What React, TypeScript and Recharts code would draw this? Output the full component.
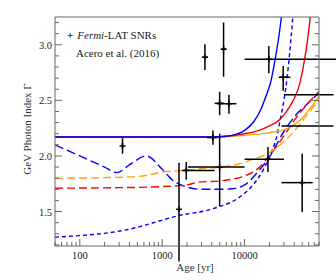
import { ComposedChart, ErrorBar, Line, Scatter, XAxis, YAxis } from 'recharts'

// ── Tick values ──

const AGE_TICKS = [
  50, 60, 70, 80, 90, 100, 200, 300, 400, 500, 600, 700, 800, 900, 1000, 2000, 3000, 4000, 5000,
  6000, 7000, 8000, 9000, 10000, 20000, 30000, 40000, 50000, 60000, 70000, 80000,
]
const AGE_MAJOR = [100, 1000, 10000]
const INDEX_TICKS = [
  1.2, 1.3, 1.4, 1.5, 1.6, 1.7, 1.8, 1.9, 2.0, 2.1, 2.2, 2.3, 2.4, 2.5, 2.6, 2.7, 2.8, 2.9, 3.0, 3.1,
  3.2,
]
const INDEX_MAJOR = [1.5, 2.0, 2.5, 3.0]

// ── Fermi-LAT SNRs (Acero et al. 2016) ──

const SNR_AGE = [330, 1600, 1960, 4980, 4130, 4980, 6460, 3300, 5560, 19700, 29400, 100000, 100000, 19200, 50000]
const SNR_AGE_LO = [330, 1600, 1740, 2050, 3500, 4330, 4700, 3070, 5200, 10000, 26000, 30000, 28000, 10000, 28000]
const SNR_AGE_HI = [330, 1600, 4330, 10000, 4700, 5630, 7950, 3600, 6000, 150000, 36000, 120000, 120000, 30000, 67000]
const SNR_IDX = [2.09, 1.52, 1.87, 1.9, 2.166, 2.473, 2.47, 2.888, 2.96, 2.87, 2.708, 2.55, 2.27, 1.97, 1.76]
const SNR_IDX_LO = [2.02, 1.05, 1.787, 1.55, 2.1, 2.367, 2.38, 2.773, 2.713, 2.744, 2.587, 2.55, 2.27, 1.855, 1.495]
const SNR_IDX_HI = [2.16, 1.94, 1.946, 2.2, 2.23, 2.578, 2.55, 3.005, 3.2, 2.99, 2.81, 2.55, 2.27, 2.08, 2.02]

// ── Model curves ──

const BLUE_SOLID_AGE = [50, 500, 3000, 5000, 7000, 10000, 13000, 16000, 18000, 21000, 23500, 26000, 28000, 30000]
const BLUE_SOLID_IDX = [2.17, 2.17, 2.17, 2.173, 2.185, 2.23, 2.31, 2.43, 2.53, 2.68, 2.87, 3.07, 3.25, 3.45]

const RED_SOLID_AGE = [50, 500, 3000, 5000, 10000, 15000, 20000, 26000, 30000, 35000, 42000, 47000, 52000, 57000, 62000, 66000]
const RED_SOLID_IDX = [2.17, 2.17, 2.17, 2.173, 2.2, 2.23, 2.27, 2.32, 2.37, 2.44, 2.55, 2.66, 2.82, 3.0, 3.22, 3.45]

const ORANGE_SOLID_AGE = [50, 500, 3000, 5000, 10000, 20000, 30000, 40000, 50000, 60000, 80000]
const ORANGE_SOLID_IDX = [2.17, 2.17, 2.17, 2.173, 2.185, 2.21, 2.235, 2.28, 2.34, 2.41, 2.54]

const BLUE_LONG_AGE = [50, 100, 200, 280, 400, 640, 1000, 1350, 2000, 3000, 5000, 7000, 10000, 15000, 20000, 30000, 40000, 60000, 80000]
const BLUE_LONG_IDX = [2.1, 2.0, 1.9, 1.85, 1.92, 2.0, 1.88, 1.78, 1.72, 1.7, 1.7, 1.705, 1.74, 1.87, 1.99, 2.22, 2.35, 2.48, 2.57]

const ORANGE_LONG_AGE = [50, 200, 500, 700, 1000, 1800, 3000, 5000, 8700, 15000, 18000, 25000, 30000, 44000, 60000, 80000]
const ORANGE_LONG_IDX = [1.8, 1.805, 1.815, 1.83, 1.855, 1.87, 1.885, 1.9, 1.93, 1.99, 2.01, 2.08, 2.13, 2.26, 2.39, 2.5]

const RED_LONG_AGE = [50, 300, 700, 1000, 2000, 2800, 5000, 7000, 10000, 14500, 20000, 30000, 40000, 60000, 80000]
const RED_LONG_IDX = [1.71, 1.715, 1.72, 1.725, 1.74, 1.765, 1.775, 1.79, 1.82, 1.886, 2.0, 2.18, 2.32, 2.48, 2.58]

const BLUE_SHORT_AGE = [50, 370, 1630, 4100, 8700, 12000, 16700, 20000, 25000, 27500, 30000, 33000, 35000, 37000, 39000, 41000]
const BLUE_SHORT_IDX = [1.27, 1.336, 1.465, 1.525, 1.63, 1.72, 1.87, 1.99, 2.2, 2.35, 2.5, 2.72, 2.9, 3.1, 3.3, 3.5]

const toSeries = (ages: number[], idx: number[]) => ages.map((age, i) => ({ age, idx: idx[i] }))

const snrData = SNR_AGE.map((age, i) => ({
  age,
  idx: SNR_IDX[i],
  ex: [age - SNR_AGE_LO[i], SNR_AGE_HI[i] - age],
  ey: [SNR_IDX[i] - SNR_IDX_LO[i], SNR_IDX_HI[i] - SNR_IDX[i]],
}))

const FRAME = '#666'
const FONT = '"Liberation Serif", "DejaVu Serif", serif'
const BLUE = '#0000ff'
const RED = '#ff0000'
const ORANGE = '#ffa500'

// ── Ticks (inward, IDL style) ──

const BottomTick = ({ x, y, payload }: any) => {
  const major = AGE_MAJOR.includes(payload.value)
  return (
    <g>
      <line stroke={FRAME} x1={x} x2={x} y1={y} y2={y - (major ? 7 : 4)} />
      {major && (
        <text fill="#222" fontFamily={FONT} fontSize={10.5} textAnchor="middle" x={x} y={y + 13}>
          {payload.value}
        </text>
      )}
    </g>
  )
}

const TopTick = ({ x, y, payload }: any) => {
  const major = AGE_MAJOR.includes(payload.value)
  return <line stroke={FRAME} x1={x} x2={x} y1={y} y2={y + (major ? 7 : 4)} />
}

const LeftTick = ({ x, y, payload }: any) => {
  const major = INDEX_MAJOR.includes(payload.value)
  return (
    <g>
      <line stroke={FRAME} x1={x} x2={x + (major ? 7 : 4)} y1={y} y2={y} />
      {major && (
        <text fill="#222" fontFamily={FONT} fontSize={10.5} textAnchor="end" x={x - 3} y={y + 4}>
          {payload.value.toFixed(1)}
        </text>
      )}
    </g>
  )
}

const RightTick = ({ x, y, payload }: any) => {
  const major = INDEX_MAJOR.includes(payload.value)
  return <line stroke={FRAME} x1={x} x2={x - (major ? 7 : 4)} y1={y} y2={y} />
}

const PlusMarker = ({ cx, cy }: any) => (
  <g stroke="#000" strokeWidth={1.5}>
    <line x1={cx - 3} x2={cx + 3} y1={cy} y2={cy} />
    <line x1={cx} x2={cx} y1={cy - 3} y2={cy + 3} />
  </g>
)

export default function App() {
  const xProps = {
    type: 'number' as const,
    scale: 'log' as const,
    domain: [50, 80000],
    allowDataOverflow: true,
    ticks: AGE_TICKS,
    interval: 0,
    tickLine: false,
    tickSize: 0,
    tickMargin: 0,
    axisLine: { stroke: FRAME },
  }
  const yProps = {
    type: 'number' as const,
    domain: [1.19, 3.25],
    allowDataOverflow: true,
    ticks: INDEX_TICKS,
    interval: 0,
    tickLine: false,
    tickSize: 0,
    tickMargin: 0,
    axisLine: { stroke: FRAME },
  }

  return (
    <div style={{ position: 'absolute', left: 0, top: 0, width: 336, height: 280, background: '#fff' }}>
      <ComposedChart height={280} margin={{ top: 16, right: 16, bottom: 4, left: 10 }} width={336}>
        <XAxis {...xProps} dataKey="age" height={30} tick={<BottomTick />} />
        <XAxis {...xProps} height={1} orientation="top" tick={<TopTick />} xAxisId="top" />
        <YAxis {...yProps} dataKey="idx" tick={<LeftTick />} width={45} />
        <YAxis {...yProps} orientation="right" tick={<RightTick />} width={1} yAxisId="right" />

        <Line
          data={toSeries(BLUE_SHORT_AGE, BLUE_SHORT_IDX)}
          dataKey="idx"
          dot={false}
          isAnimationActive={false}
          stroke={BLUE}
          strokeDasharray="4 3"
          strokeWidth={1.4}
          type="monotone"
        />
        <Line
          data={toSeries(BLUE_LONG_AGE, BLUE_LONG_IDX)}
          dataKey="idx"
          dot={false}
          isAnimationActive={false}
          stroke={BLUE}
          strokeDasharray="9 4"
          strokeWidth={1.4}
          type="monotone"
        />
        <Line
          data={toSeries(RED_LONG_AGE, RED_LONG_IDX)}
          dataKey="idx"
          dot={false}
          isAnimationActive={false}
          stroke={RED}
          strokeDasharray="8 4"
          strokeWidth={1.4}
          type="monotone"
        />
        <Line
          data={toSeries(ORANGE_LONG_AGE, ORANGE_LONG_IDX)}
          dataKey="idx"
          dot={false}
          isAnimationActive={false}
          stroke={ORANGE}
          strokeDasharray="8 4"
          strokeWidth={1.4}
          type="monotone"
        />
        <Line
          data={toSeries(ORANGE_SOLID_AGE, ORANGE_SOLID_IDX)}
          dataKey="idx"
          dot={false}
          isAnimationActive={false}
          stroke={ORANGE}
          strokeWidth={1.4}
          type="monotone"
        />
        <Line
          data={toSeries(RED_SOLID_AGE, RED_SOLID_IDX)}
          dataKey="idx"
          dot={false}
          isAnimationActive={false}
          stroke={RED}
          strokeWidth={1.4}
          type="monotone"
        />
        <Line
          data={toSeries(BLUE_SOLID_AGE, BLUE_SOLID_IDX)}
          dataKey="idx"
          dot={false}
          isAnimationActive={false}
          stroke={BLUE}
          strokeWidth={1.4}
          type="monotone"
        />

        <Scatter data={snrData} isAnimationActive={false} shape={PlusMarker}>
          <ErrorBar dataKey="ex" direction="x" isAnimationActive={false} stroke="#000" strokeWidth={1.5} width={0} />
          <ErrorBar dataKey="ey" direction="y" isAnimationActive={false} stroke="#000" strokeWidth={1.5} width={0} />
        </Scatter>
      </ComposedChart>

      {/* Legend */}
      <div
        style={{
          position: 'absolute',
          left: 67,
          top: 28,
          fontFamily: FONT,
          fontSize: 11,
          color: '#222',
          whiteSpace: 'nowrap',
          lineHeight: '14px',
        }}
      >
        <span style={{ fontWeight: 'bold', marginRight: 4 }}>+</span>
        <i>Fermi</i>-LAT SNRs
      </div>
      <div
        style={{
          position: 'absolute',
          left: 76,
          top: 46,
          fontFamily: FONT,
          fontSize: 11,
          color: '#222',
          whiteSpace: 'nowrap',
          lineHeight: '14px',
        }}
      >
        Acero et al. (2016)
      </div>

      {/* Axis titles */}
      <div
        style={{
          position: 'absolute',
          left: 195,
          top: 267,
          transform: 'translate(-50%, -50%)',
          fontFamily: FONT,
          fontSize: 11,
          color: '#333',
          whiteSpace: 'nowrap',
        }}
      >
        Age [yr]
      </div>
      <div
        style={{
          position: 'absolute',
          left: 27,
          top: 129,
          transform: 'translate(-50%, -50%) rotate(-90deg)',
          fontFamily: FONT,
          fontSize: 11,
          color: '#333',
          whiteSpace: 'nowrap',
        }}
      >
        GeV Photon Index Γ
      </div>
    </div>
  )
}
